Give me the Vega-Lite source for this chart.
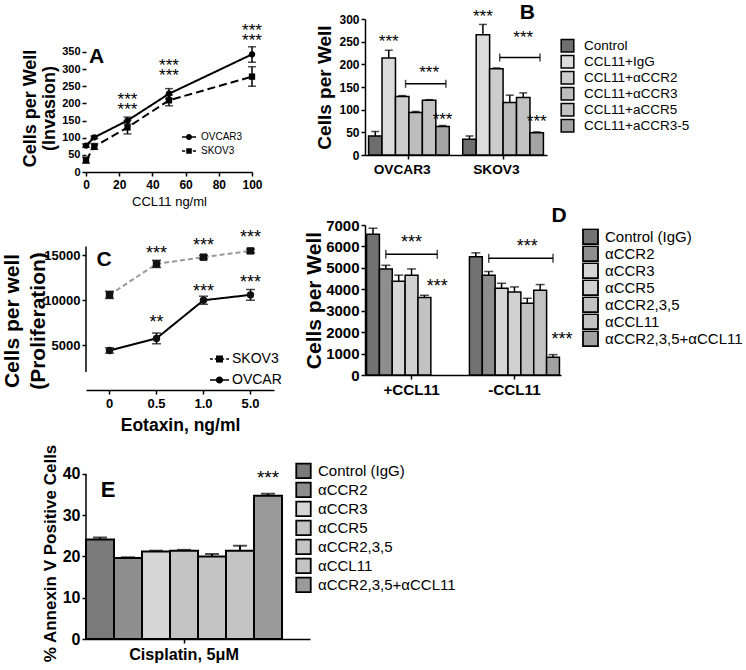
{
  "$schema": "https://vega.github.io/schema/vega-lite/v6.json",
  "padding": {"left": 1, "top": 2, "right": 0, "bottom": 0},
  "config": {
    "font": "Liberation Sans",
    "view": {"stroke": null},
    "axis": {"domainColor": "black", "domainWidth": 1.5, "tickColor": "black", "tickWidth": 1.5, "tickSize": 4, "labelColor": "black", "labelFontWeight": "bold", "labelPadding": 2, "titleColor": "black", "titleFontWeight": "bold", "grid": false, "labelFlush": false, "labelOverlap": false},
    "legend": {"padding": 0, "labelColor": "black", "labelFont": "Liberation Sans"},
    "text": {"font": "Liberation Sans", "color": "black"}
  },
  "datasets": {
    "A": [
      {"series": "OVCAR3", "x": 0, "y": 77, "lo": 72, "hi": 82},
      {"series": "OVCAR3", "x": 5, "y": 101, "lo": 97, "hi": 105},
      {"series": "OVCAR3", "x": 25, "y": 150, "lo": 140, "hi": 160},
      {"series": "OVCAR3", "x": 50, "y": 228, "lo": 213, "hi": 243},
      {"series": "OVCAR3", "x": 100, "y": 343, "lo": 320, "hi": 365},
      {"series": "SKOV3", "x": 0, "y": 34, "lo": 26, "hi": 43},
      {"series": "SKOV3", "x": 5, "y": 74, "lo": 66, "hi": 83},
      {"series": "SKOV3", "x": 25, "y": 130, "lo": 111, "hi": 150},
      {"series": "SKOV3", "x": 50, "y": 209, "lo": 193, "hi": 225},
      {"series": "SKOV3", "x": 100, "y": 278, "lo": 250, "hi": 307}
    ],
    "Astar": [
      {"x": 25, "y": 209, "t": "***\n***"},
      {"x": 50, "y": 308, "t": "***\n***"},
      {"x": 100, "y": 410, "t": "***\n***"}
    ],
    "C": [
      {"series": "SKOV3", "x": "0", "y": 10600, "lo": 10200, "hi": 11000},
      {"series": "SKOV3", "x": "0.5", "y": 14050, "lo": 13650, "hi": 14450},
      {"series": "SKOV3", "x": "1.0", "y": 14800, "lo": 14600, "hi": 15000},
      {"series": "SKOV3", "x": "5.0", "y": 15500, "lo": 15300, "hi": 15700},
      {"series": "OVCAR", "x": "0", "y": 4400, "lo": 4100, "hi": 4700},
      {"series": "OVCAR", "x": "0.5", "y": 5750, "lo": 5150, "hi": 6350},
      {"series": "OVCAR", "x": "1.0", "y": 10000, "lo": 9550, "hi": 10450},
      {"series": "OVCAR", "x": "5.0", "y": 10600, "lo": 10000, "hi": 11200}
    ],
    "Cstar": [
      {"x": "0.5", "y": 15207, "t": "***"}, {"x": "1.0", "y": 16100, "t": "***"}, {"x": "5.0", "y": 16900, "t": "***"},
      {"x": "0.5", "y": 7460, "t": "**"}, {"x": "1.0", "y": 10940, "t": "***"}, {"x": "5.0", "y": 11930, "t": "***"}
    ],
    "B": [
      {"slot": "OVCAR3|Control", "cond": "Control", "v": 42, "hi": 52},
      {"slot": "OVCAR3|CCL11+IgG", "cond": "CCL11+IgG", "v": 214, "hi": 231},
      {"slot": "OVCAR3|CCL11+αCCR2", "cond": "CCL11+αCCR2", "v": 129, "hi": 131},
      {"slot": "OVCAR3|CCL11+αCCR3", "cond": "CCL11+αCCR3", "v": 94, "hi": 96},
      {"slot": "OVCAR3|CCL11+aCCR5", "cond": "CCL11+aCCR5", "v": 121, "hi": 122},
      {"slot": "OVCAR3|CCL11+aCCR3-5", "cond": "CCL11+aCCR3-5", "v": 63, "hi": 65},
      {"slot": "SKOV3|Control", "cond": "Control", "v": 35, "hi": 42},
      {"slot": "SKOV3|CCL11+IgG", "cond": "CCL11+IgG", "v": 265, "hi": 288},
      {"slot": "SKOV3|CCL11+αCCR2", "cond": "CCL11+αCCR2", "v": 190, "hi": 192},
      {"slot": "SKOV3|CCL11+αCCR3", "cond": "CCL11+αCCR3", "v": 116, "hi": 132},
      {"slot": "SKOV3|CCL11+aCCR5", "cond": "CCL11+aCCR5", "v": 127, "hi": 137},
      {"slot": "SKOV3|CCL11+aCCR3-5", "cond": "CCL11+aCCR3-5", "v": 49, "hi": 51}
    ],
    "Bbr": [
      {"id": 1, "slot": "OVCAR3|CCL11+αCCR2", "v": 157},
      {"id": 1, "slot": "OVCAR3|CCL11+aCCR3-5", "v": 157},
      {"id": 2, "slot": "SKOV3|CCL11+αCCR2", "v": 215},
      {"id": 2, "slot": "SKOV3|CCL11+aCCR3-5", "v": 215}
    ],
    "Bst": [
      {"slot": "OVCAR3|CCL11+IgG", "v": 250, "t": "***"},
      {"slot": "OVCAR3|CCL11+aCCR5", "v": 181, "t": "***"},
      {"slot": "OVCAR3|CCL11+aCCR3-5", "v": 77, "t": "***"},
      {"slot": "SKOV3|CCL11+IgG", "v": 305, "t": "***"},
      {"slot": "SKOV3|CCL11+aCCR5", "v": 259, "t": "***"},
      {"slot": "SKOV3|CCL11+aCCR3-5", "v": 73, "t": "***"}
    ],
    "D": [
      {"slot": "+CCL11|Control (IgG)", "cond": "Control (IgG)", "v": 6570, "hi": 6850},
      {"slot": "+CCL11|αCCR2", "cond": "αCCR2", "v": 4950, "hi": 5120},
      {"slot": "+CCL11|αCCR3", "cond": "αCCR3", "v": 4380, "hi": 4660},
      {"slot": "+CCL11|αCCR5", "cond": "αCCR5", "v": 4650, "hi": 4950},
      {"slot": "+CCL11|αCCR2,3,5", "cond": "αCCR2,3,5", "v": 3620, "hi": 3720},
      {"slot": "-CCL11|Control (IgG)", "cond": "Control (IgG)", "v": 5520, "hi": 5700},
      {"slot": "-CCL11|αCCR2", "cond": "αCCR2", "v": 4650, "hi": 4830},
      {"slot": "-CCL11|αCCR3", "cond": "αCCR3", "v": 4050, "hi": 4280},
      {"slot": "-CCL11|αCCR5", "cond": "αCCR5", "v": 3870, "hi": 4110},
      {"slot": "-CCL11|αCCR2,3,5", "cond": "αCCR2,3,5", "v": 3350, "hi": 3580},
      {"slot": "-CCL11|αCCL11", "cond": "αCCL11", "v": 3950, "hi": 4220},
      {"slot": "-CCL11|αCCR2,3,5+αCCL11", "cond": "αCCR2,3,5+αCCL11", "v": 830, "hi": 950}
    ],
    "Dbr": [
      {"id": 1, "slot": "+CCL11|αCCR2", "v": 5632},
      {"id": 1, "slot": "+CCL11|αCCL11", "v": 5632},
      {"id": 2, "slot": "-CCL11|αCCR2", "v": 5446},
      {"id": 2, "slot": "-CCL11|αCCR2,3,5+αCCL11", "v": 5446}
    ],
    "Dst": [
      {"slot": "+CCL11|αCCR5", "v": 6146, "t": "***"},
      {"slot": "+CCL11|αCCL11", "v": 4093, "t": "***"},
      {"slot": "-CCL11|αCCR2,3,5", "v": 5959, "t": "***"}
    ],
    "Dst2": [
      {"slot": "-CCL11|αCCR2,3,5+αCCL11", "v": 1620, "t": "***"}
    ],
    "E": [
      {"slot": "Control (IgG)", "cond": "Control (IgG)", "v": 24.1, "hi": 24.6},
      {"slot": "αCCR2", "cond": "αCCR2", "v": 19.6, "hi": 19.8},
      {"slot": "αCCR3", "cond": "αCCR3", "v": 21.2, "hi": 21.4},
      {"slot": "αCCR5", "cond": "αCCR5", "v": 21.4, "hi": 21.6},
      {"slot": "αCCR2,3,5", "cond": "αCCR2,3,5", "v": 20.0, "hi": 20.6},
      {"slot": "αCCL11", "cond": "αCCL11", "v": 21.4, "hi": 22.6},
      {"slot": "αCCR2,3,5+αCCL11", "cond": "αCCR2,3,5+αCCL11", "v": 34.7, "hi": 35.2}
    ],
    "Est": [
      {"slot": "αCCR2,3,5+αCCL11", "v": 39.0, "t": "***"}
    ]
  },
  "resolve": {"scale": {"fill": "independent", "shape": "independent", "strokeDash": "independent", "stroke": "independent"}},
  "bounds": "flush",
  "align": "each",
  "columns": 2,
  "spacing": {"row": 53, "column": 55},
  "concat": [
    {
      "width": 166,
      "height": 153,
      "resolve": {"scale": {"shape": "independent"}},
      "encoding": {
        "x": {"field": "x", "type": "quantitative", "scale": {"domain": [0, 100], "nice": false},
          "axis": {"values": [0, 20, 40, 60, 80, 100], "tickCount": 20, "title": "CCL11 ng/ml", "titleFontWeight": "normal", "titleFontSize": 13, "titlePadding": 5, "labelFontSize": 12, "labelPadding": 3}}
      },
      "layer": [
        {
          "data": {"values": [{}]},
          "mark": {"type": "rule", "color": "black", "strokeWidth": 1.5},
          "encoding": {"x": {"datum": 0, "type": "quantitative"}, "y": {"datum": 0, "type": "quantitative"}, "y2": {"datum": 375}}
        },
        {
          "data": {"name": "A"},
          "mark": {"type": "line", "color": "black", "strokeWidth": 2},
          "encoding": {
            "y": {"field": "y", "type": "quantitative", "scale": {"domain": [0, 446], "nice": false},
              "axis": {"values": [0, 50, 100, 150, 200, 250, 300, 350], "tickCount": 20, "domain": false, "title": ["Cells per Well", "(Invasion)"], "titleFontSize": 18, "titleLineHeight": 19, "titlePadding": 3, "titleY": 89, "labelFontSize": 11}},
            "strokeDash": {"field": "series", "type": "nominal", "scale": {"domain": ["OVCAR3", "SKOV3"], "range": [[1, 0], [8, 4]]}, "legend": null}
          }
        },
        {
          "data": {"name": "A"},
          "mark": {"type": "rule", "color": "black", "strokeWidth": 1.5},
          "encoding": {"y": {"field": "lo", "type": "quantitative"}, "y2": {"field": "hi"}}
        },
        {
          "data": {"name": "A"},
          "mark": {"type": "tick", "orient": "horizontal", "size": 8, "thickness": 1.5, "color": "black"},
          "encoding": {"y": {"field": "lo", "type": "quantitative"}}
        },
        {
          "data": {"name": "A"},
          "mark": {"type": "tick", "orient": "horizontal", "size": 8, "thickness": 1.5, "color": "black"},
          "encoding": {"y": {"field": "hi", "type": "quantitative"}}
        },
        {
          "data": {"name": "A"},
          "mark": {"type": "point", "filled": true, "color": "black", "size": 40, "opacity": 1},
          "encoding": {
            "y": {"field": "y", "type": "quantitative"},
            "shape": {"field": "series", "type": "nominal", "scale": {"domain": ["OVCAR3", "SKOV3"], "range": ["circle", "square"]}, "legend": null}
          }
        },
        {
          "data": {"name": "A"},
          "transform": [{"filter": "datum.x < 0"}],
          "mark": {"type": "point", "filled": true, "color": "black"},
          "encoding": {
            "y": {"field": "y", "type": "quantitative"},
            "shape": {"field": "series", "type": "nominal",
              "scale": {"domain": ["OVCAR3", "SKOV3"], "range": ["M-1,-0.1H1V0.1H-1Z M0.43,0A0.43,0.43 0 1,1 -0.43,0A0.43,0.43 0 1,1 0.43,0Z", "M-1,-0.1H-0.55V0.1H-1Z M0.55,-0.1H1V0.1H0.55Z M-0.4,-0.4H0.4V0.4H-0.4Z"]},
              "legend": {"title": null, "orient": "none", "legendX": 96, "legendY": 111, "symbolSize": 196, "symbolFillColor": "black", "symbolStrokeWidth": 0, "symbolOpacity": 1, "labelFontSize": 10, "labelOffset": 5, "rowPadding": 0, "clipHeight": 14}}
          }
        },
        {
          "data": {"name": "Astar"},
          "mark": {"type": "text", "fontSize": 17, "baseline": "middle", "lineBreak": "\n", "lineHeight": 10},
          "encoding": {"y": {"field": "y", "type": "quantitative"}, "text": {"field": "t"}}
        },
        {
          "data": {"values": [{"x": 6.3, "y": 335, "t": "A"}]},
          "mark": {"type": "text", "fontSize": 21, "fontWeight": "bold", "baseline": "middle"},
          "encoding": {"y": {"field": "y", "type": "quantitative"}, "text": {"field": "t"}}
        }
      ]
    },
    {
      "width": 182,
      "height": 136,
      "encoding": {
        "x": {"field": "slot", "type": "nominal",
          "scale": {"domain": ["OVCAR3|Control", "OVCAR3|CCL11+IgG", "OVCAR3|CCL11+αCCR2", "OVCAR3|CCL11+αCCR3", "OVCAR3|CCL11+aCCR5", "OVCAR3|CCL11+aCCR3-5", "gap", "SKOV3|Control", "SKOV3|CCL11+IgG", "SKOV3|CCL11+αCCR2", "SKOV3|CCL11+αCCR3", "SKOV3|CCL11+aCCR5", "SKOV3|CCL11+aCCR3-5"], "paddingInner": 0, "paddingOuter": 0.266},
          "axis": {"title": null, "values": ["OVCAR3|CCL11+αCCR2", "SKOV3|CCL11+αCCR2"], "bandPosition": 1, "labelExpr": "substring(datum.value, 0, indexof(datum.value, '|'))", "labelAngle": 0, "labelFontSize": 13.7, "labelPadding": 3}}
      },
      "layer": [
        {
          "data": {"name": "B"},
          "mark": {"type": "bar", "stroke": "black", "strokeWidth": 1.5},
          "encoding": {
            "y": {"field": "v", "type": "quantitative", "scale": {"domain": [0, 300], "nice": false},
              "axis": {"values": [0, 50, 100, 150, 200, 250, 300], "tickCount": 20, "title": "Cells per Well", "titleFontSize": 19, "titlePadding": 4, "labelFontSize": 12}},
            "fill": {"field": "cond", "type": "nominal",
              "scale": {"domain": ["Control", "CCL11+IgG", "CCL11+αCCR2", "CCL11+αCCR3", "CCL11+aCCR5", "CCL11+aCCR3-5"], "range": ["#6e6e6e", "#dcdcdc", "#cdcdcd", "#bdbdbd", "#c2c2c2", "#a4a4a4"]},
              "legend": {"title": null, "orient": "none", "legendX": 195, "legendY": 19, "symbolType": "square", "symbolSize": 160, "symbolStrokeColor": "black", "symbolStrokeWidth": 1.5, "labelFontSize": 13.5, "labelOffset": 9, "rowPadding": 0, "clipHeight": 15.4}}
          }
        },
        {
          "data": {"name": "B"},
          "mark": {"type": "rule", "color": "black", "strokeWidth": 1.5},
          "encoding": {"y": {"field": "v", "type": "quantitative"}, "y2": {"field": "hi"}}
        },
        {
          "data": {"name": "B"},
          "mark": {"type": "tick", "orient": "horizontal", "size": 8, "thickness": 1.5, "color": "black"},
          "encoding": {"y": {"field": "hi", "type": "quantitative"}}
        },
        {
          "data": {"name": "Bbr"},
          "mark": {"type": "line", "color": "black", "strokeWidth": 1.5},
          "encoding": {"x": {"field": "slot", "type": "nominal", "bandPosition": 0.75}, "y": {"field": "v", "type": "quantitative"}, "detail": {"field": "id", "type": "nominal"}}
        },
        {
          "data": {"name": "Bbr"},
          "mark": {"type": "tick", "orient": "vertical", "size": 8, "thickness": 1.5, "color": "black"},
          "encoding": {"x": {"field": "slot", "type": "nominal", "bandPosition": 0.75}, "y": {"field": "v", "type": "quantitative"}}
        },
        {
          "data": {"name": "Bst"},
          "mark": {"type": "text", "fontSize": 17, "baseline": "middle"},
          "encoding": {"y": {"field": "v", "type": "quantitative"}, "text": {"field": "t"}}
        },
        {
          "data": {"values": [{"slot": "SKOV3|CCL11+aCCR5", "v": 313, "t": "B"}]},
          "mark": {"type": "text", "fontSize": 21, "fontWeight": "bold", "baseline": "middle", "dx": 4},
          "encoding": {"y": {"field": "v", "type": "quantitative"}, "text": {"field": "t"}}
        }
      ]
    },
    {
      "width": 188,
      "height": 165,
      "resolve": {"scale": {"shape": "independent"}},
      "encoding": {
        "x": {"field": "x", "type": "nominal",
          "scale": {"type": "band", "domain": ["0", "0.5", "1.0", "5.0"], "paddingInner": 0, "paddingOuter": 0},
          "axis": {"title": "Eotaxin, ng/ml", "titleFontSize": 17.5, "titlePadding": 6, "labelFontSize": 13, "labelPadding": 3, "labelAngle": 0}}
      },
      "layer": [
        {
          "data": {"values": [{}]},
          "mark": {"type": "rule", "color": "black", "strokeWidth": 1.5},
          "encoding": {"x": {"datum": "0", "bandPosition": 0}, "y": {"datum": 2000, "type": "quantitative"}, "y2": {"datum": 16000}}
        },
        {
          "data": {"name": "C"},
          "mark": {"type": "line", "strokeWidth": 2},
          "encoding": {
            "y": {"field": "y", "type": "quantitative", "scale": {"domain": [2000, 18385], "nice": false},
              "axis": {"values": [5000, 10000, 15000], "tickCount": 20, "format": "d", "domain": false, "title": ["Cells per well", "(Proliferation)"], "titleFontSize": 21, "titleLineHeight": 26, "titlePadding": -5, "titleY": 95.5, "labelFontSize": 13}},
            "stroke": {"field": "series", "type": "nominal", "scale": {"domain": ["SKOV3", "OVCAR"], "range": ["#999999", "black"]}, "legend": null},
            "strokeDash": {"field": "series", "type": "nominal", "scale": {"domain": ["SKOV3", "OVCAR"], "range": [[5, 3], [1, 0]]}, "legend": null}
          }
        },
        {
          "data": {"name": "C"},
          "mark": {"type": "rule", "color": "black", "strokeWidth": 1.5},
          "encoding": {"y": {"field": "lo", "type": "quantitative"}, "y2": {"field": "hi"}}
        },
        {
          "data": {"name": "C"},
          "mark": {"type": "tick", "orient": "horizontal", "size": 9, "thickness": 1.5, "color": "black"},
          "encoding": {"y": {"field": "lo", "type": "quantitative"}}
        },
        {
          "data": {"name": "C"},
          "mark": {"type": "tick", "orient": "horizontal", "size": 9, "thickness": 1.5, "color": "black"},
          "encoding": {"y": {"field": "hi", "type": "quantitative"}}
        },
        {
          "data": {"name": "C"},
          "mark": {"type": "point", "filled": true, "color": "#111111", "size": 55, "opacity": 1},
          "encoding": {
            "y": {"field": "y", "type": "quantitative"},
            "shape": {"field": "series", "type": "nominal", "scale": {"domain": ["SKOV3", "OVCAR"], "range": ["square", "circle"]}, "legend": null}
          }
        },
        {
          "data": {"name": "C"},
          "transform": [{"filter": "datum.y < 0"}],
          "mark": {"type": "point", "filled": true, "color": "black"},
          "encoding": {
            "y": {"field": "y", "type": "quantitative"},
            "shape": {"field": "series", "type": "nominal",
              "scale": {"domain": ["SKOV3", "OVCAR"], "range": ["M-1,-0.08H-0.7V0.08H-1Z M-0.5,-0.08H-0.3V0.08H-0.5Z M0.3,-0.08H0.5V0.08H0.3Z M0.7,-0.08H1V0.08H0.7Z M-0.37,-0.37H0.37V0.37H-0.37Z", "M-1,-0.08H1V0.08H-1Z M0.38,0A0.38,0.38 0 1,1 -0.38,0A0.38,0.38 0 1,1 0.38,0Z"]},
              "legend": {"title": null, "orient": "none", "legendX": 124, "legendY": 123.5, "symbolSize": 361, "symbolFillColor": "black", "symbolStrokeWidth": 0, "symbolOpacity": 1, "labelFontSize": 14, "labelOffset": 3, "rowPadding": 0, "clipHeight": 21}}
          }
        },
        {
          "data": {"name": "Cstar"},
          "mark": {"type": "text", "fontSize": 18, "baseline": "middle"},
          "encoding": {"y": {"field": "y", "type": "quantitative"}, "text": {"field": "t"}}
        },
        {
          "data": {"values": [{"x": "0", "y": 14512, "t": "C"}]},
          "mark": {"type": "text", "fontSize": 21, "fontWeight": "bold", "baseline": "middle", "dx": -5.5},
          "encoding": {"y": {"field": "y", "type": "quantitative"}, "text": {"field": "t"}}
        }
      ]
    },
    {
      "width": 196,
      "height": 150,
      "encoding": {
        "x": {"field": "slot", "type": "nominal",
          "scale": {"domain": ["+CCL11|Control (IgG)", "+CCL11|αCCR2", "+CCL11|αCCR3", "+CCL11|αCCR5", "+CCL11|αCCR2,3,5", "+CCL11|αCCL11", "+CCL11|αCCR2,3,5+αCCL11", "gap", "-CCL11|Control (IgG)", "-CCL11|αCCR2", "-CCL11|αCCR3", "-CCL11|αCCR5", "-CCL11|αCCR2,3,5", "-CCL11|αCCL11", "-CCL11|αCCR2,3,5+αCCL11"], "paddingInner": 0, "paddingOuter": 0.12},
          "axis": {"title": null, "values": ["+CCL11|αCCR5", "-CCL11|αCCR5"], "labelExpr": "substring(datum.value, 0, indexof(datum.value, '|'))", "labelAngle": 0, "labelFontSize": 15.2, "labelPadding": 3}}
      },
      "layer": [
        {
          "data": {"name": "D"},
          "mark": {"type": "bar", "stroke": "black", "strokeWidth": 1.5},
          "encoding": {
            "y": {"field": "v", "type": "quantitative", "scale": {"domain": [0, 7000], "nice": false},
              "axis": {"values": [0, 1000, 2000, 3000, 4000, 5000, 6000, 7000], "tickCount": 20, "format": "d", "title": "Cells per Well", "titleFontSize": 21, "titlePadding": 1, "labelFontSize": 15}},
            "fill": {"field": "cond", "type": "nominal",
              "scale": {"domain": ["Control (IgG)", "αCCR2", "αCCR3", "αCCR5", "αCCR2,3,5", "αCCL11", "αCCR2,3,5+αCCL11"], "range": ["#727272", "#8e8e8e", "#d6d6d6", "#d0d0d0", "#c2c2c2", "#c2c2c2", "#a2a2a2"]},
              "legend": {"title": null, "orient": "none", "legendX": 217, "legendY": 3.5, "symbolType": "square", "symbolSize": 225, "symbolStrokeColor": "black", "symbolStrokeWidth": 1.8, "labelFontSize": 15, "labelOffset": 6, "rowPadding": 0, "clipHeight": 16.4}}
          }
        },
        {
          "data": {"name": "D"},
          "mark": {"type": "rule", "color": "black", "strokeWidth": 1.5},
          "encoding": {"y": {"field": "v", "type": "quantitative"}, "y2": {"field": "hi"}}
        },
        {
          "data": {"name": "D"},
          "mark": {"type": "tick", "orient": "horizontal", "size": 9, "thickness": 1.5, "color": "black"},
          "encoding": {"y": {"field": "hi", "type": "quantitative"}}
        },
        {
          "data": {"name": "Dbr"},
          "mark": {"type": "line", "color": "black", "strokeWidth": 1.5},
          "encoding": {"y": {"field": "v", "type": "quantitative"}, "detail": {"field": "id", "type": "nominal"}}
        },
        {
          "data": {"name": "Dbr"},
          "mark": {"type": "tick", "orient": "vertical", "size": 9, "thickness": 1.5, "color": "black"},
          "encoding": {"y": {"field": "v", "type": "quantitative"}}
        },
        {
          "data": {"name": "Dst"},
          "mark": {"type": "text", "fontSize": 18, "baseline": "middle"},
          "encoding": {"y": {"field": "v", "type": "quantitative"}, "text": {"field": "t"}}
        },
        {
          "data": {"name": "Dst2"},
          "mark": {"type": "text", "fontSize": 18, "baseline": "middle", "dx": 9},
          "encoding": {"y": {"field": "v", "type": "quantitative"}, "text": {"field": "t"}}
        },
        {
          "data": {"values": [{"slot": "-CCL11|αCCR2,3,5+αCCL11", "v": 7429, "t": "D"}]},
          "mark": {"type": "text", "fontSize": 21, "fontWeight": "bold", "baseline": "middle", "dx": 6},
          "encoding": {"y": {"field": "v", "type": "quantitative"}, "text": {"field": "t"}}
        }
      ]
    },
    {
      "width": 224,
      "height": 196,
      "encoding": {
        "x": {"field": "slot", "type": "nominal",
          "scale": {"domain": ["Control (IgG)", "αCCR2", "αCCR3", "αCCR5", "αCCR2,3,5", "αCCL11", "αCCR2,3,5+αCCL11", "pad"], "paddingInner": 0, "paddingOuter": 0},
          "axis": {"title": null, "values": ["αCCR5"], "labelExpr": "'Cisplatin, 5μM'", "labelAngle": 0, "labelFontSize": 16.2, "labelPadding": 3}}
      },
      "layer": [
        {
          "data": {"values": [{}]},
          "mark": {"type": "rule", "color": "black", "strokeWidth": 1.5},
          "encoding": {"x": {"datum": "Control (IgG)", "bandPosition": 0}, "y": {"datum": 0, "type": "quantitative"}, "y2": {"datum": 40}}
        },
        {
          "data": {"name": "E"},
          "mark": {"type": "bar", "stroke": "black", "strokeWidth": 2},
          "encoding": {
            "y": {"field": "v", "type": "quantitative", "scale": {"domain": [0, 47.5], "nice": false},
              "axis": {"values": [0, 10, 20, 30, 40], "tickCount": 20, "domain": false, "title": "% Annexin V Positive Cells", "titleFontSize": 17, "titlePadding": 3, "titleY": 110, "labelFontSize": 16}},
            "fill": {"field": "cond", "type": "nominal",
              "scale": {"domain": ["Control (IgG)", "αCCR2", "αCCR3", "αCCR5", "αCCR2,3,5", "αCCL11", "αCCR2,3,5+αCCL11"], "range": ["#7a7a7a", "#8e8e8e", "#d6d6d6", "#c4c4c4", "#c4c4c4", "#c4c4c4", "#9a9a9a"]},
              "legend": {"title": null, "orient": "none", "legendX": 209, "legendY": 18.4, "symbolType": "square", "symbolSize": 210, "symbolStrokeColor": "black", "symbolStrokeWidth": 1.8, "labelFontSize": 15, "labelOffset": 6, "rowPadding": 0, "clipHeight": 18.9}}
          }
        },
        {
          "data": {"name": "E"},
          "mark": {"type": "rule", "color": "black", "strokeWidth": 2},
          "encoding": {"y": {"field": "v", "type": "quantitative"}, "y2": {"field": "hi"}}
        },
        {
          "data": {"name": "E"},
          "mark": {"type": "tick", "orient": "horizontal", "size": 14, "thickness": 2, "color": "black"},
          "encoding": {"y": {"field": "hi", "type": "quantitative"}}
        },
        {
          "data": {"name": "Est"},
          "mark": {"type": "text", "fontSize": 19, "baseline": "middle"},
          "encoding": {"y": {"field": "v", "type": "quantitative"}, "text": {"field": "t"}}
        },
        {
          "data": {"values": [{"slot": "Control (IgG)", "v": 36, "t": "E"}]},
          "mark": {"type": "text", "fontSize": 22, "fontWeight": "bold", "baseline": "middle", "dx": 8},
          "encoding": {"y": {"field": "v", "type": "quantitative"}, "text": {"field": "t"}}
        }
      ]
    }
  ]
}
